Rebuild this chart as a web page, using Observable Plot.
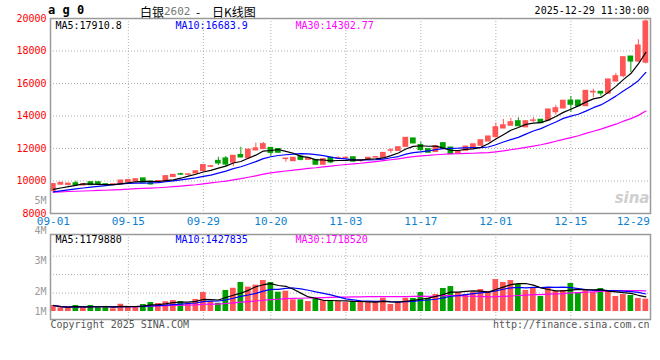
<!DOCTYPE html>
<html><head><meta charset="utf-8">
<script src="https://cdn.jsdelivr.net/npm/d3@7"></script>
<script src="https://cdn.jsdelivr.net/npm/@observablehq/plot@0.6"></script>
<style>
body{margin:0;background:#fff;}
#chart{position:relative;width:660px;height:360px;overflow:hidden;background:#fff;}
#chart svg{position:absolute;left:0;overflow:visible;}
.t{position:absolute;white-space:nowrap;line-height:14px;}
</style></head><body>
<div id="chart">
  <div class="t" style="left:48px;top:3px;font:bold 12px 'DejaVu Sans Mono';color:#000;">a g 0</div>
  <div class="t" style="left:140px;top:3px;font:12px 'Noto Sans CJK SC';color:#000;">白银</div>
  <div class="t" style="left:164px;top:5px;font:11px 'DejaVu Sans Mono';color:#777;">2602</div>
  <div class="t" style="left:196px;top:3px;font:12px 'Noto Sans CJK SC';color:#000;">-</div>
  <div class="t" style="left:212px;top:3px;font:12px 'Noto Sans CJK SC';color:#000;">日K线图</div>
  <div class="t" style="right:11px;top:5px;font:10px 'DejaVu Sans Mono';color:#000;">2025-12-29 11:30:00</div>
</div>
<script>
const dates = ["09-01","09-02","09-03","09-04","09-05","09-08","09-09","09-10","09-11","09-12","09-15","09-16","09-17","09-18","09-19","09-22","09-23","09-24","09-25","09-26","09-29","09-30","10-09","10-10","10-13","10-14","10-15","10-16","10-17","10-20","10-21","10-22","10-23","10-24","10-27","10-28","10-29","10-30","10-31","11-03","11-04","11-05","11-06","11-07","11-10","11-11","11-12","11-13","11-14","11-17","11-18","11-19","11-20","11-21","11-24","11-25","11-26","11-27","11-28","12-01","12-02","12-03","12-04","12-05","12-08","12-09","12-10","12-11","12-12","12-15","12-16","12-17","12-18","12-19","12-22","12-23","12-24","12-25","12-26","12-29"];
const opens = [9380,9770,9760,9865,9720,9926,9926,9800,9740,9800, 9920,9960,10160,9960,9890,9950,10240,10420,10380,10460, 10600,10870,11240,11390,11130,11600,11400,11880,11960,12040, 11970,11350,11220,11510,11300,11300,11000,11430,11380,11400, 11460,11240,11310,11440,11430,11860,11850,12100,12620,12210, 11960,11780,12330,12060,11690,11860,11990,12170,12430,12700, 13230,13400,13680,13300,13700,13770,13720,14230,14460,14950, 14950,14600,15450,15490,15370,16120,16450,17660,17350,17280];
const highs = [9830,9900,9850,9990,9820,9940,9940,9830,9810,10040, 10100,10130,10170,9980,10010,10310,10400,10480,10450,10620, 11000,10960,11460,11510,11580,12080,11950,12330,12370,12060, 12000,11400,11450,11570,11420,11310,11350,11450,11480,11480, 11480,11300,11440,11500,11740,11990,12090,12670,12630,12380, 11970,12150,12340,12070,11840,12130,12270,12520,12750,13560, 13800,13850,13890,13700,13900,13780,14420,14650,14950,15200, 14960,15560,15650,15500,16260,16620,17630,17670,18690,19910];
const lows = [9370,9760,9700,9720,9700,9740,9790,9720,9730,9790, 9910,9950,9880,9740,9880,9940,10230,10340,10350,10440, 10590,10850,10950,10890,10890,11420,11380,11860,11950,11500, 11700,11150,11200,11240,11290,10990,10990,11060,11330,11360, 11180,11130,11300,11420,11420,11700,11840,12090,12300,11850, 11730,11770,12010,11640,11680,11850,11980,12160,12420,12650, 13220,13390,13360,13290,13600,13550,13710,14050,14450,14230, 14590,14590,15120,15220,15360,16110,16350,16680,17300,17200];
const closes = [9810,9890,9840,9750,9800,9745,9800,9760,9800,10030, 10060,10110,9890,9790,10000,10300,10380,10390,10410,10600, 10980,10910,11080,11010,11550,11450,11930,12010,12270,11730, 11740,11380,11430,11300,11400,11000,11340,11140,11420,11430, 11190,11270,11430,11470,11730,11890,12080,12660,12310,11900, 11740,12140,12020,11650,11830,12120,12260,12510,12740,13310, 13430,13620,13370,13680,13730,13560,14400,14480,14940,14690, 14600,15550,15490,15380,16250,16450,17620,17350,18340,19820];
const volumes = [490000,300000,300000,490000,300000,490000,350000,410000,220000,590000, 410000,410000,570000,730000,650000,790000,890000,810000,670000,980000, 1540000,810000,670000,1710000,1890000,2360000,1980000,2140000,2520000,2360000, 1570000,1650000,950000,950000,810000,980000,870000,870000,840000,730000, 810000,810000,720000,720000,1080000,570000,730000,1080000,1060000,1540000, 1060000,1380000,1870000,2030000,1540000,1380000,1540000,1790000,1630000,2600000, 2360000,2520000,2200000,1710000,1950000,1220000,1870000,1630000,1710000,2280000, 1520000,1710000,1540000,1870000,1630000,1220000,1380000,1300000,1060000,1000000];
const ma5 = [9480,9570,9650,9730,9818,9805,9787,9771,9781,9827, 9890,9952,9978,9976,9970,10018,10072,10172,10296,10416, 10552,10658,10796,10916,11106,11200,11404,11590,11842,11878, 11936,11826,11710,11516,11450,11302,11294,11236,11260,11266, 11304,11290,11348,11358,11418,11558,11720,11966,12134,12168, 12138,12150,12022,11890,11876,11952,11976,12074,12292,12588, 12850,13122,13294,13482,13566,13592,13748,13970,14222,14414, 14622,14852,15054,15142,15454,15824,16238,16610,17202,17916];
const ma10 = [9330,9390,9450,9510,9570,9620,9670,9720,9770,9823, 9848,9870,9875,9879,9899,9954,10012,10075,10136,10193, 10285,10365,10484,10606,10761,10876,11031,11193,11379,11492, 11568,11615,11650,11679,11664,11619,11560,11473,11388,11358, 11303,11292,11292,11309,11342,11431,11505,11657,11746,11793, 11848,11935,11994,12012,12022,12045,12063,12048,12091,12232, 12401,12549,12684,12887,13077,13221,13435,13632,13852,13990, 14107,14300,14512,14682,14934,15223,15545,15832,16172,16685];
const ma30 = [9315,9335,9353,9368,9385,9400,9417,9432,9449,9473, 9498,9525,9545,9561,9584,9617,9653,9689,9726,9769, 9825,9879,9938,9995,10070,10142,10230,10320,10420,10502, 10567,10617,10670,10721,10775,10816,10868,10914,10968,11014, 11052,11091,11142,11198,11256,11309,11365,11441,11504,11548, 11573,11614,11645,11667,11676,11698,11709,11726,11742,11794, 11851,11925,11990,12069,12147,12232,12334,12446,12563,12672, 12785,12928,13063,13194,13344,13496,13681,13837,14038,14303];
const priceTicks = [8000,10000,12000,14000,16000,18000,20000];
const xTickLabels = ["09-01","09-15","09-29","10-20","11-03","11-17","12-01","12-15","12-29"];
const priceLegend = ["MA5:17910.8","MA10:16683.9","MA30:14302.77"];
const volLegend = ["MA5:1179880","MA10:1427835","MA30:1718520"];
const volLabelTicks = [5,4,3,2,1];
const volGridTicks = [1500000,3000000,4500000];

const mono = "DejaVu Sans Mono";
const RED = "#ff5555", GREEN = "#00a000", BLUE = "#0000ff", MAG = "#ff00ff", XBLUE = "#0c7fd1";
const rows = dates.map((d,i)=>({i, date:d, open:opens[i], high:highs[i], low:lows[i], close:closes[i],
  vol:volumes[i], ma5:ma5[i], ma10:ma10[i], ma30:ma30[i], col: closes[i] >= opens[i] ? RED : GREEN}));
const tickIdx = xTickLabels.map(d => dates.indexOf(d));
const gridIdx = tickIdx.slice(1, -1);
const xDomain = [-0.38, 79.62];
const half = 0.38;
const grid = {stroke:"#b0b0b0", strokeDasharray:"1,2", strokeWidth:1};
const baseStyle = {fontFamily:mono, fontSize:"10px", background:"transparent", overflow:"visible"};

const price = Plot.plot({
  width:660, height:230, marginLeft:50, marginRight:10, marginTop:18, marginBottom:17,
  x:{domain:xDomain, axis:null},
  y:{domain:[8000,20000], axis:null},
  color:{type:"identity"},
  style:baseStyle,
  marks:[
    Plot.ruleY(priceTicks.slice(1,-1), {y:d=>d, ...grid}),
    Plot.ruleX(gridIdx, {x:d=>d, ...grid}),
    Plot.text(["sina"], {frameAnchor:"bottom-right", dx:-1, dy:-11, fill:"#cfcfcf", fontSize:15, fontWeight:"bold", fontStyle:"italic", fontFamily:"DejaVu Sans"}),
    Plot.ruleX(rows, {x:"i", y1:"low", y2:"high", stroke:"col", strokeWidth:1}),
    Plot.rect(rows, {x1:d=>d.i-half, x2:d=>d.i+half, y1:"open", y2:"close", fill:"col", insetTop:-0.5, insetBottom:-0.5}),
    Plot.line(rows, {x:"i", y:"ma30", stroke:MAG, strokeWidth:1.2}),
    Plot.line(rows, {x:"i", y:"ma10", stroke:BLUE, strokeWidth:1.2}),
    Plot.line(rows, {x:"i", y:"ma5", stroke:"#000", strokeWidth:1.2}),
    Plot.frame({stroke:"#9a9a9a", strokeWidth:1.5}),
    Plot.axisY({ticks:priceTicks, tickSize:0, tickPadding:4, color:"#ff0000", tickFormat:d=>String(d), label:null, fontSize:10}),
    Plot.text(tickIdx.slice(0,-1), {x:d=>d, text:d=>dates[d], frameAnchor:"bottom", lineAnchor:"middle", dy:8, fill:XBLUE, fontSize:11}),
    Plot.text(tickIdx.slice(-1), {x:d=>d, text:d=>dates[d], frameAnchor:"bottom", lineAnchor:"middle", textAnchor:"end", dx:4, dy:8, fill:XBLUE, fontSize:11}),
    Plot.text([priceLegend[0]], {frameAnchor:"top-left", dx:5, dy:3, fill:"#000"}),
    Plot.text([priceLegend[1]], {frameAnchor:"top-left", dx:125, dy:3, fill:BLUE}),
    Plot.text([priceLegend[2]], {frameAnchor:"top-left", dx:245, dy:3, fill:MAG})
  ]
});
price.style.top = "0px";

const volume = Plot.plot({
  width:660, height:104, marginLeft:50, marginRight:10, marginTop:4, marginBottom:15,
  x:{domain:xDomain, axis:null},
  y:{domain:[-650000, 6260000], axis:null},
  color:{type:"identity"},
  style:baseStyle,
  marks:[
    Plot.ruleY(volGridTicks, {y:d=>d, ...grid}),
    Plot.ruleX(gridIdx, {x:d=>d, ...grid}),
    Plot.rect(rows, {x1:d=>d.i-half, x2:d=>d.i+half, y1:0, y2:"vol", fill:"col"}),
    Plot.lineY(rows, Plot.windowY({k:30, anchor:"end"}, {x:"i", y:"vol", stroke:MAG, strokeWidth:1.2})),
    Plot.lineY(rows, Plot.windowY({k:10, anchor:"end"}, {x:"i", y:"vol", stroke:BLUE, strokeWidth:1.2})),
    Plot.lineY(rows, Plot.windowY({k:5, anchor:"end"}, {x:"i", y:"vol", stroke:"#000", strokeWidth:1.2})),
    Plot.frame({stroke:"#9a9a9a", strokeWidth:1.5}),
    Plot.text([volLegend[0]], {frameAnchor:"top-left", dx:5, dy:1.5, fill:"#000"}),
    Plot.text([volLegend[1]], {frameAnchor:"top-left", dx:125, dy:1.5, fill:BLUE}),
    Plot.text([volLegend[2]], {frameAnchor:"top-left", dx:245, dy:1.5, fill:MAG}),
    Plot.text(["Copyright 2025 SINA.COM"], {frameAnchor:"bottom-left", lineAnchor:"middle", dy:5, fill:"#555"}),
    Plot.text(["http://finance.sina.com.cn"], {frameAnchor:"bottom-right", lineAnchor:"middle", dx:-1, dy:5, fill:"#555"})
  ]
});
volume.style.top = "230px";

// volume axis labels (Sina places them unevenly); piecewise linear position scale
const volAxis = Plot.plot({
  width:52, height:140, marginLeft:50, marginRight:2, marginTop:0, marginBottom:0,
  y:{type:"linear", domain:[5,2,1], range:[10,101,121], axis:null},
  style:baseStyle,
  marks:[
    Plot.text(volLabelTicks, {y:d=>d, text:d=>d+"M", frameAnchor:"left", textAnchor:"end", dx:-4, fill:"#9a9a9a", fontSize:10})
  ]
});
volAxis.style.top = "190px";

const chart = document.getElementById("chart");
chart.append(price, volume, volAxis);
</script>
</body></html>
